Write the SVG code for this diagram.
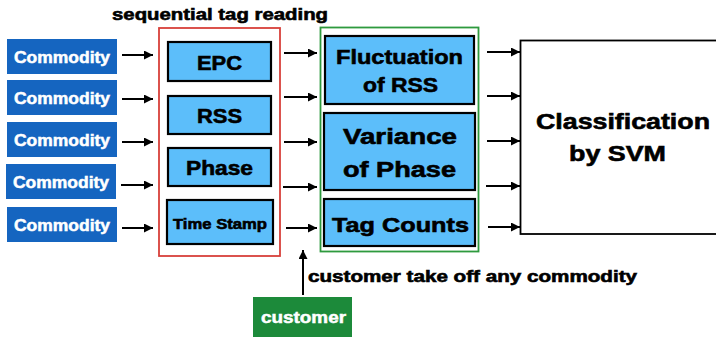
<svg xmlns="http://www.w3.org/2000/svg" width="716" height="338" viewBox="0 0 716 338">
<defs>
<marker id="ah" viewBox="0 0 10 10" refX="10" refY="5" markerWidth="4.5" markerHeight="4.5" markerUnits="strokeWidth" orient="auto">
<path d="M0,0 L10,5 L0,10 z" fill="#000"/>
</marker>
<style>
text{font-family:"Liberation Sans",Arial,sans-serif;font-weight:bold;text-anchor:middle;fill:#000;stroke:#000;stroke-width:0.6}
.com{fill:#1565c0}
.ct{fill:#fff;stroke:#fff;stroke-width:0.5;font-size:16px}
.feat{fill:#5cbefa;stroke:#000;stroke-width:2.2}
.ft{font-size:21px}
.conn line{stroke:#000;stroke-width:2;marker-end:url(#ah)}
</style>
</defs>
<rect width="716" height="338" fill="#fff"/>

<text x="220" y="20" style="font-size:16.5px" textLength="216" lengthAdjust="spacingAndGlyphs">sequential tag reading</text>

<g id="commodity1"><rect class="com" x="7" y="39" width="110" height="35"/><text class="ct" x="62" y="62.5" textLength="96" lengthAdjust="spacingAndGlyphs">Commodity</text></g>
<g id="commodity2"><rect class="com" x="7" y="80" width="110" height="35"/><text class="ct" x="62" y="104" textLength="96" lengthAdjust="spacingAndGlyphs">Commodity</text></g>
<g id="commodity3"><rect class="com" x="7" y="122" width="110" height="35"/><text class="ct" x="62" y="146" textLength="96" lengthAdjust="spacingAndGlyphs">Commodity</text></g>
<g id="commodity4"><rect class="com" x="6" y="164" width="110" height="35"/><text class="ct" x="61" y="188" textLength="96" lengthAdjust="spacingAndGlyphs">Commodity</text></g>
<g id="commodity5"><rect class="com" x="7" y="207" width="110" height="35"/><text class="ct" x="62" y="231" textLength="96" lengthAdjust="spacingAndGlyphs">Commodity</text></g>

<g id="tag-reading">
<rect x="159" y="28" width="121" height="228" fill="none" stroke="#d8403a" stroke-width="1.8"/>
<g id="epc"><rect class="feat" x="168" y="42" width="103" height="39"/><text class="ft" x="219.5" y="70" textLength="45" lengthAdjust="spacingAndGlyphs">EPC</text></g>
<g id="rss"><rect class="feat" x="168" y="96" width="103" height="38"/><text class="ft" x="219.5" y="123" textLength="45" lengthAdjust="spacingAndGlyphs">RSS</text></g>
<g id="phase"><rect class="feat" x="168" y="148" width="103" height="38"/><text class="ft" x="219.5" y="175" textLength="67" lengthAdjust="spacingAndGlyphs">Phase</text></g>
<g id="timestamp"><rect class="feat" x="167" y="200" width="106" height="44"/><text x="220" y="229" style="font-size:15px" textLength="94" lengthAdjust="spacingAndGlyphs">Time Stamp</text></g>
</g>

<g id="features">
<rect x="320.5" y="27.5" width="158" height="224" fill="none" stroke="#2e9a3e" stroke-width="1.8"/>
<g id="fluctuation"><rect class="feat" x="325" y="36" width="149" height="68"/><text class="ft" x="399.5" y="64" textLength="127" lengthAdjust="spacingAndGlyphs">Fluctuation</text><text class="ft" x="400.5" y="92" textLength="75" lengthAdjust="spacingAndGlyphs">of RSS</text></g>
<g id="variance"><rect class="feat" x="324" y="113" width="151" height="77"/><text x="400" y="144" style="font-size:22px" textLength="114" lengthAdjust="spacingAndGlyphs">Variance</text><text x="399.5" y="177" style="font-size:22px" textLength="113" lengthAdjust="spacingAndGlyphs">of Phase</text></g>
<g id="tagcounts"><rect class="feat" x="324" y="199" width="151" height="47"/><text class="ft" x="400.5" y="232" textLength="137" lengthAdjust="spacingAndGlyphs">Tag Counts</text></g>
</g>

<g id="svm">
<rect x="520.5" y="40.5" width="210" height="193.5" fill="#fff" stroke="#000" stroke-width="1.8"/>
<text x="623" y="129" style="font-size:22px" textLength="174" lengthAdjust="spacingAndGlyphs">Classification</text>
<text x="617.5" y="161" style="font-size:22px" textLength="97" lengthAdjust="spacingAndGlyphs">by SVM</text>
</g>

<g id="customer">
<rect x="253" y="297" width="99" height="40" fill="#1c8a3a"/>
<text class="ct" x="303.5" y="323" textLength="85" lengthAdjust="spacingAndGlyphs">customer</text>
</g>

<text x="472.5" y="282" style="font-size:16px" textLength="329" lengthAdjust="spacingAndGlyphs">customer take off any commodity</text>

<g class="conn" id="connectors">
<line x1="122" y1="55" x2="153" y2="55"/>
<line x1="122" y1="99" x2="153" y2="99"/>
<line x1="122" y1="142" x2="153" y2="142"/>
<line x1="121" y1="185" x2="153" y2="185"/>
<line x1="122" y1="228" x2="153" y2="228"/>
<line x1="284" y1="53" x2="317" y2="53"/>
<line x1="284" y1="97" x2="317" y2="97"/>
<line x1="284" y1="142" x2="317" y2="142"/>
<line x1="283" y1="187" x2="317" y2="187"/>
<line x1="286" y1="228" x2="317" y2="228"/>
<line x1="487" y1="52" x2="520" y2="52"/>
<line x1="487" y1="96" x2="520" y2="96"/>
<line x1="487" y1="141" x2="520" y2="141"/>
<line x1="486" y1="186" x2="520" y2="186"/>
<line x1="488" y1="227" x2="520" y2="227"/>
<line x1="303" y1="295" x2="303" y2="250"/>
</g>
</svg>
